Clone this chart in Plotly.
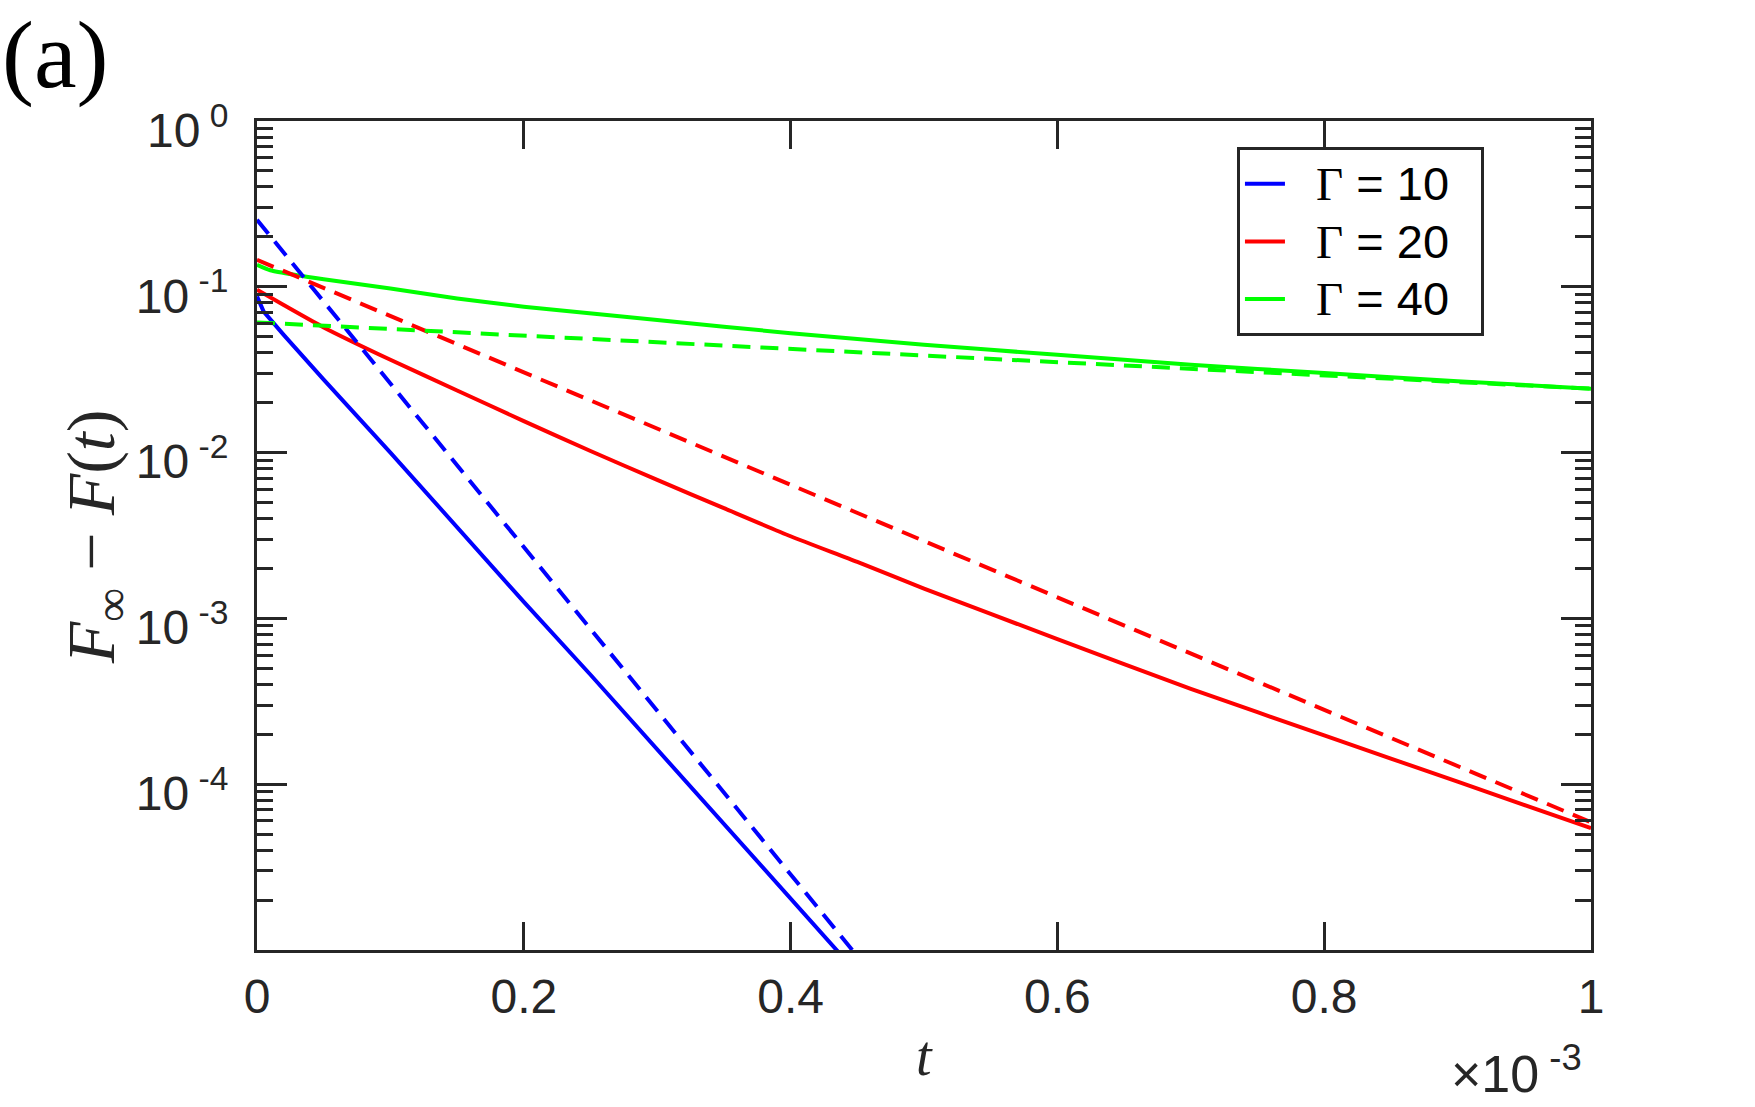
import plotly.graph_objects as go

# ---- data (t in units of 1e-3) ----
t_blue_solid = [0, 0.005, 0.02, 0.05, 0.1, 0.15, 0.2, 0.25, 0.3, 0.35, 0.4, 0.45]
F_blue_solid = [0.0875, 0.0708, 0.0513, 0.02754, 0.0100, 0.003548, 0.001259,
                4.571e-4, 1.622e-4, 5.754e-5, 2.042e-5, 7.244e-6]

t_blue_dash = [0, 0.1, 0.2, 0.3, 0.4, 0.46]
F_blue_dash = [0.2535, 0.02612, 0.00269, 2.773e-4, 2.858e-5, 7.31e-6]

t_red_solid = [0, 0.02, 0.05, 0.1, 0.15, 0.2, 0.25, 0.3, 0.35, 0.4, 0.45, 0.5,
               0.6, 0.7, 0.8, 0.9, 1.0]
F_red_solid = [0.0959, 0.0776, 0.0569, 0.0363, 0.0237, 0.01549, 0.01023, 0.00684,
               0.00462, 0.00313, 0.00219, 0.001514, 7.50e-4, 3.76e-4, 1.97e-4,
               1.035e-4, 5.43e-5]

t_red_dash = [0, 0.2, 0.4, 0.6, 0.8, 1.0]
F_red_dash = [0.1455, 0.0305, 0.0064, 0.00134, 2.81e-4, 5.89e-5]

t_green_solid = [0, 0.01, 0.03, 0.05, 0.1, 0.15, 0.2, 0.3, 0.4, 0.5, 0.6, 0.7,
                 0.8, 0.9, 1.0]
F_green_solid = [0.1358, 0.1259, 0.1175, 0.111, 0.0977, 0.0851, 0.0759, 0.0631,
                 0.0525, 0.0447, 0.0389, 0.0339, 0.0302, 0.0269, 0.0243]

t_green_dash = [0, 0.5, 1.0]
F_green_dash = [0.061, 0.0385, 0.0243]

series_names = ["Γ = 10", "Γ = 20", "Γ = 40"]
series_colors = ["#0000FF", "#FF0000", "#00FF00"]

x_tickvals = [0, 0.2, 0.4, 0.6, 0.8, 1]
x_ticktext = ["0", "0.2", "0.4", "0.6", "0.8", "1"]
y_tickvals = [1, 0.1, 0.01, 0.001, 0.0001]
y_ticktext = ["10<sup> 0</sup>", "10<sup> -1</sup>", "10<sup> -2</sup>",
              "10<sup> -3</sup>", "10<sup> -4</sup>"]

AX = "#262626"
LW = 4
DASH = "18px,10px"
NB = "\u00a0"

fig = go.Figure()
solids = [(t_blue_solid, F_blue_solid), (t_red_solid, F_red_solid), (t_green_solid, F_green_solid)]
dashes = [(t_blue_dash, F_blue_dash), (t_red_dash, F_red_dash), (t_green_dash, F_green_dash)]
shapes = ["linear", "spline", "spline"]

for (tx, fy), name, col, shp in zip(solids, series_names, series_colors, shapes):
    inner = name.replace("Γ", "<span style=\"font-family:Liberation Serif\">Γ</span>")
    label = "<span style=\"font-size:47px\">" + NB * 2 + inner + NB * 2 + "</span>"
    fig.add_trace(go.Scatter(x=tx, y=fy, mode="lines", name=label,
                             line=dict(color=col, width=LW, shape=shp, smoothing=0.6)))
for (tx, fy), col in zip(dashes, series_colors):
    fig.add_trace(go.Scatter(x=tx, y=fy, mode="lines", showlegend=False,
                             line=dict(color=col, width=LW, dash=DASH)))

fig.update_layout(
    width=1755, height=1107,
    margin=dict(l=257, r=164, t=121, b=157),
    paper_bgcolor="white", plot_bgcolor="white",
    font=dict(family="Liberation Sans", size=46, color=AX),
    showlegend=True,
    legend=dict(x=0.7346, y=0.9686, xanchor="left", yanchor="top",
                bgcolor="white", bordercolor=AX, borderwidth=3,
                font=dict(family="Liberation Sans", size=42, color="black"),
                tracegroupgap=0, itemwidth=40),
)

fig.update_xaxes(
    range=[0, 1], showgrid=False, zeroline=False,
    showline=True, linecolor=AX, linewidth=3, mirror="allticks",
    ticks="inside", ticklen=28, tickwidth=3, tickcolor=AX,
    tickvals=x_tickvals, ticktext=x_ticktext,
    tickfont=dict(family="Liberation Sans", size=48, color=AX),
    ticklabelstandoff=2,
)
fig.update_yaxes(
    type="log", range=[-5, 0], showgrid=False, zeroline=False,
    showline=True, linecolor=AX, linewidth=3, mirror="allticks",
    ticks="inside", ticklen=30, tickwidth=3, tickcolor=AX,
    tickvals=y_tickvals, ticktext=y_ticktext,
    tickfont=dict(family="Liberation Sans", size=48, color=AX),
    ticklabelstandoff=16, ticklabelshift=9,
    minor=dict(ticks="inside", ticklen=16, tickwidth=3, tickcolor=AX,
               dtick="D1", showgrid=False),
)

# axis titles and annotations
fig.add_annotation(text="<i>t</i>", xref="paper", yref="paper", x=0.5, y=-0.128,
                   xanchor="center", yanchor="middle", showarrow=False,
                   font=dict(family="Liberation Serif", size=56, color=AX))
fig.add_annotation(text="<i>F</i><sub>∞</sub> − <i>F</i>(<i>t</i>)", xref="paper", yref="paper",
                   x=-0.1214, y=0.498, xanchor="center", yanchor="middle", showarrow=False,
                   textangle=-90,
                   font=dict(family="Liberation Serif", size=68, color=AX))
fig.add_annotation(text="×10<sup> -3</sup>", xref="paper", yref="paper", x=0.9948, y=-0.145,
                   xanchor="right", yanchor="middle", showarrow=False,
                   font=dict(family="Liberation Sans", size=52, color=AX))
fig.add_annotation(text="(a)", xref="paper", yref="paper", x=-0.1927, y=1.147,
                   xanchor="left", yanchor="top", showarrow=False,
                   font=dict(family="Liberation Serif", size=96, color="black"))

fig.write_html("out.html")
